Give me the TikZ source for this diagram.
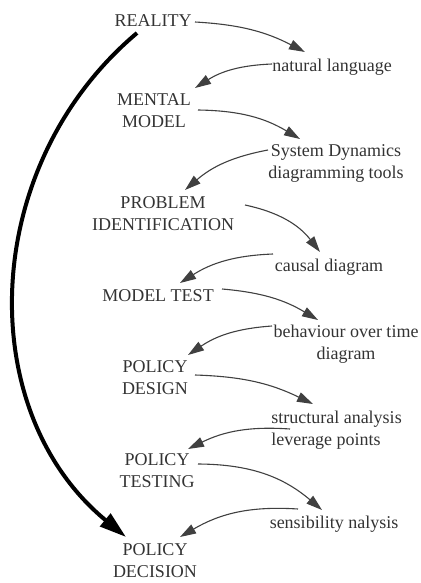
\documentclass[tikz,border=0pt]{standalone}
\usepackage{fontspec}
\setmainfont{Liberation Serif}
\usetikzlibrary{arrows.meta,calc}
\begin{document}
\begin{tikzpicture}[x=1pt,y=1pt,
  lbl/.style={text=black!80, font=\fontsize{18}{22}\selectfont, align=center, inner sep=2pt},
  arr/.style={draw=black!75, line width=1.1pt, -{Triangle[length=16pt,width=10pt]}},
  big/.style={draw=black, line width=4pt, -{Triangle[length=27pt,width=16pt]}}]
\useasboundingbox (0,0) rectangle (420,-583);
\node[lbl] (reality) at (153,-21) {REALITY};
\node[lbl] (natlang) at (332,-67) {natural language};
\node[lbl] (mental) at (154,-111) {MENTAL\\MODEL};
\node[lbl] (sd) at (336,-163) {System Dynamics\\diagramming tools};
\node[lbl] (problem) at (163,-214) {PROBLEM\\IDENTIFICATION};
\node[lbl] (causal) at (329,-267) {causal diagram};
\node[lbl] (modeltest) at (158,-296) {MODEL TEST};
\node[lbl] (behaviour) at (346,-344) {behaviour over time\\diagram};
\node[lbl] (design) at (155,-378) {POLICY\\DESIGN};
\node[lbl, align=left] (structural) at (336.5,-430) {structural analysis\\leverage points};
\node[lbl] (testing) at (157,-471) {POLICY\\TESTING};
\node[lbl] (sensibility) at (334,-524) {sensibility nalysis};
\node[lbl] (decision) at (155,-561) {POLICY\\DECISION};

\draw[arr] ($(reality.center)+(42,-1)$) to[bend left=12] ($(natlang.center)+(-27,15)$);
\draw[arr] ($(natlang.center)+(-60,3)$) to[bend right=15] ($(mental.center)+(41,23)$);
\draw[arr] ($(mental.center)+(44,1)$) to[bend left=15] ($(sd.center)+(-36,24)$);
\draw[arr] ($(sd.center)+(-68,13)$) to[bend right=15] ($(problem.center)+(22,24)$);
\draw[arr] ($(problem.center)+(82,9)$) to[bend left=20] ($(causal.center)+(-9,15)$);
\draw[arr] ($(causal.center)+(-56,13)$) to[bend right=15] ($(modeltest.center)+(22,13)$);
\draw[arr] ($(modeltest.center)+(64,7)$) to[bend left=13] ($(behaviour.center)+(-28,24)$);
\draw[arr] ($(behaviour.center)+(-74,18)$) to[bend right=15] ($(design.center)+(33,23)$);
\draw[arr] ($(design.center)+(40,3)$) to[bend left=12] ($(structural.center)+(-23.5,26)$);
\draw[arr] ($(structural.center)+(-46.5,1)$) to[bend right=15] ($(testing.center)+(31,22)$);
\draw[arr] ($(testing.center)+(41,7)$) to[bend left=20] ($(sensibility.center)+(-12,14)$);
\draw[arr] ($(sensibility.center)+(-36,15)$) to[bend right=17] ($(decision.center)+(25,24)$);
\draw[big] ($(reality.center)+(-16,-12)$) .. controls ($(reality.center)+(-174,-145)$) and ($(decision.center)+(-182,150)$) .. ($(decision.center)+(-29,24)$);
\end{tikzpicture}
\end{document}
